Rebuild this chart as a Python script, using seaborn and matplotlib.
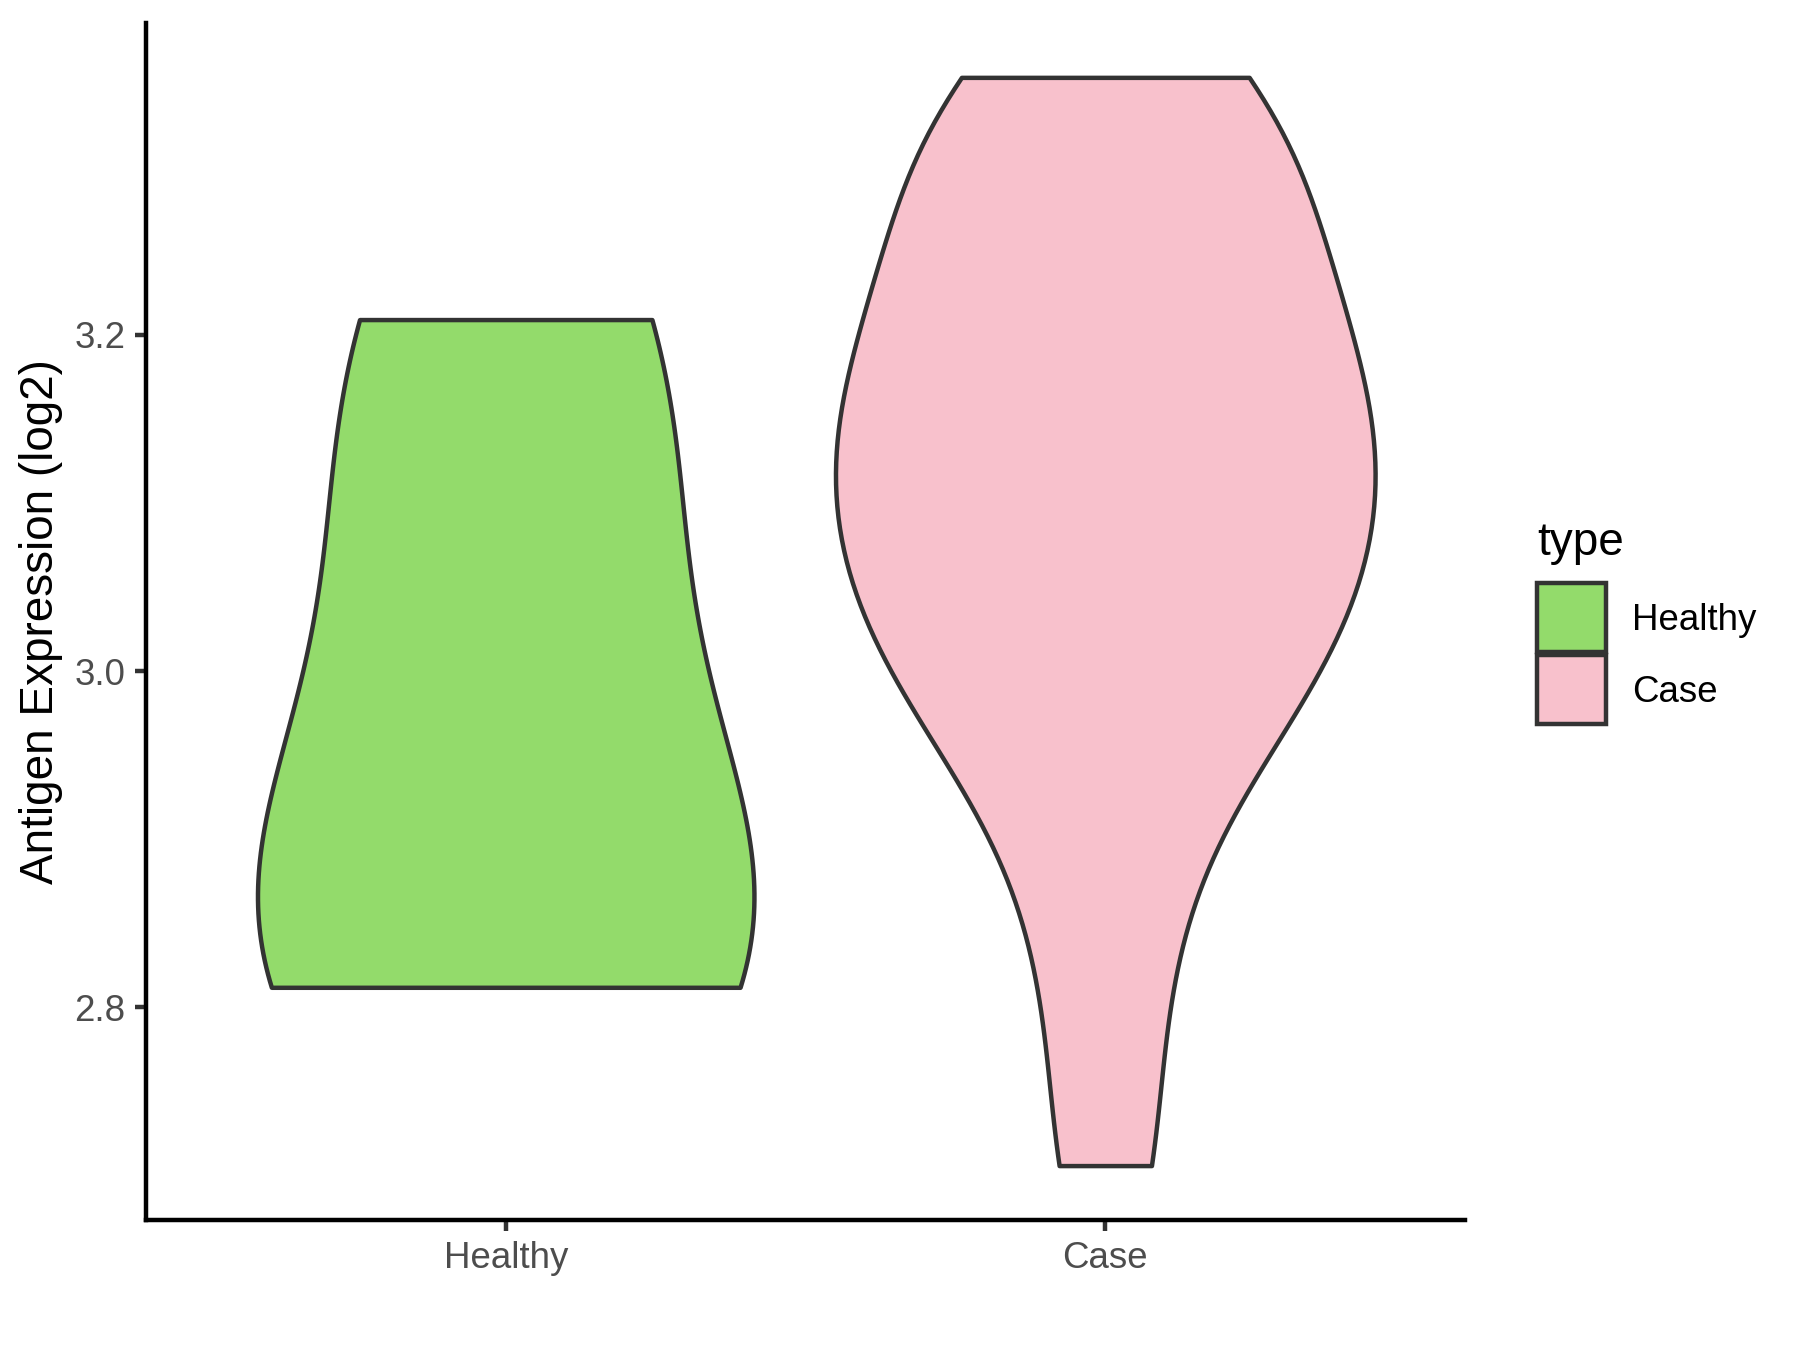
import pandas as pd
import matplotlib
matplotlib.use("Agg")
import matplotlib.pyplot as plt
import seaborn as sns
from matplotlib.patches import Rectangle

sns.set_style("white")
plt.rcParams['font.family'] = ['Liberation Sans', 'DejaVu Sans']

# data
groups = ["Healthy", "Case"]
colors = ["#93DB6B", "#F8C1CC"]
healthy = [2.812, 2.845, 2.875, 3.11, 3.209]
case = [2.706, 2.825, 2.915, 2.97, 3.00, 3.011, 3.047, 3.078, 3.09, 3.110,
        3.148, 3.16, 3.18, 3.209, 3.245, 3.27, 3.32, 3.335, 3.353]
yticks = [2.8, 3.0, 3.2]

# kde smoothing and relative violin width per group
bw = {"Healthy": 1.05, "Case": 0.78}
rel_width = {"Healthy": 0.92, "Case": 1.0}

df = pd.DataFrame({
    "type": ["Healthy"] * len(healthy) + ["Case"] * len(case),
    "value": healthy + case,
})

fig = plt.figure(figsize=(6, 4.5), dpi=300)
ax = fig.add_axes([0.0811, 0.0963, 0.7328, 0.8867])

for g, c in zip(groups, colors):
    sns.violinplot(data=df[df["type"] == g], x="type", y="value", order=groups,
                   color=c, saturation=1, cut=0, density_norm="area",
                   width=0.9 * rel_width[g], inner=None, bw_adjust=bw[g],
                   linewidth=1.07, linecolor="#333333", ax=ax)

lo, hi = df["value"].min(), df["value"].max()
pad = 0.05 * (hi - lo)
ax.set_ylim(lo - pad, hi + pad)
ax.set_xlim(-0.6, 1.6)
ax.set_yticks(yticks)
ax.set_yticklabels([f"{t:.1f}" for t in yticks])

ax.set_xlabel("")
ax.set_ylabel("Antigen Expression (log2)", fontsize=11, color="black", labelpad=2.75)
ax.tick_params(axis="both", length=2.75, width=1.07, color="#333333",
               labelsize=8.8, labelcolor="#4D4D4D", pad=2.2, direction="out",
               left=True, bottom=True)
for side in ["top", "right"]:
    ax.spines[side].set_visible(False)
for side in ["left", "bottom"]:
    ax.spines[side].set_linewidth(1.07)
    ax.spines[side].set_color("black")

# legend drawn by hand, ggplot style
fig.text(0.8539, 0.5889, "type", fontsize=11, color="black", va="baseline", ha="left")
key_y = [0.5170, 0.4637]
label_y = [0.5333, 0.4800]
for g, c, ky, ly in zip(groups, colors, key_y, label_y):
    fig.patches.append(Rectangle((0.8539, ky), 0.0383, 0.0511, facecolor=c,
                                 edgecolor="#333333", linewidth=1.07,
                                 transform=fig.transFigure, figure=fig))
    fig.text(0.9067, ly, g, fontsize=8.8, color="black", va="baseline", ha="left")

fig.savefig("out.png", dpi=300)
